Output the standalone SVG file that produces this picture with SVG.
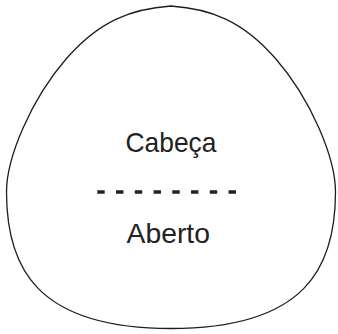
<svg xmlns="http://www.w3.org/2000/svg" width="338" height="334" viewBox="0 0 338 334">
  <style>
    .outline { fill: #ffffff; stroke: #1e1e1e; stroke-width: 1.3; }
    .label { font-family: "Liberation Sans Narrow", "Liberation Sans", Arial, sans-serif; font-size: 28px; fill: #222222; }
    .divider { stroke: #222222; stroke-width: 3.4; stroke-dasharray: 7.4 11.35; fill: none; }
  </style>
  <rect width="338" height="334" fill="#ffffff"/>
  <g id="shape">
    <path class="outline" d="M171,6 C131.6,8.8 99.5,20.55 66.7,58.3 C30.6,99.8 6.5,158 6.5,192 C6.5,267 36,328.5 171,328.5 C306,328.5 335.5,267 335.5,192 C335.5,158 311.4,99.8 275.3,58.3 C242.5,20.55 210.4,8.8 171,6 Z"/>
  </g>
  <g id="label-top">
    <text class="label" x="125.5" y="152.3" textLength="91" lengthAdjust="spacingAndGlyphs">Cabeça</text>
  </g>
  <g id="divider">
    <line class="divider" x1="97.3" y1="192" x2="237" y2="192"/>
  </g>
  <g id="label-bottom">
    <text class="label" x="126.5" y="243.3" textLength="83.5" lengthAdjust="spacingAndGlyphs">Aberto</text>
  </g>
</svg>
